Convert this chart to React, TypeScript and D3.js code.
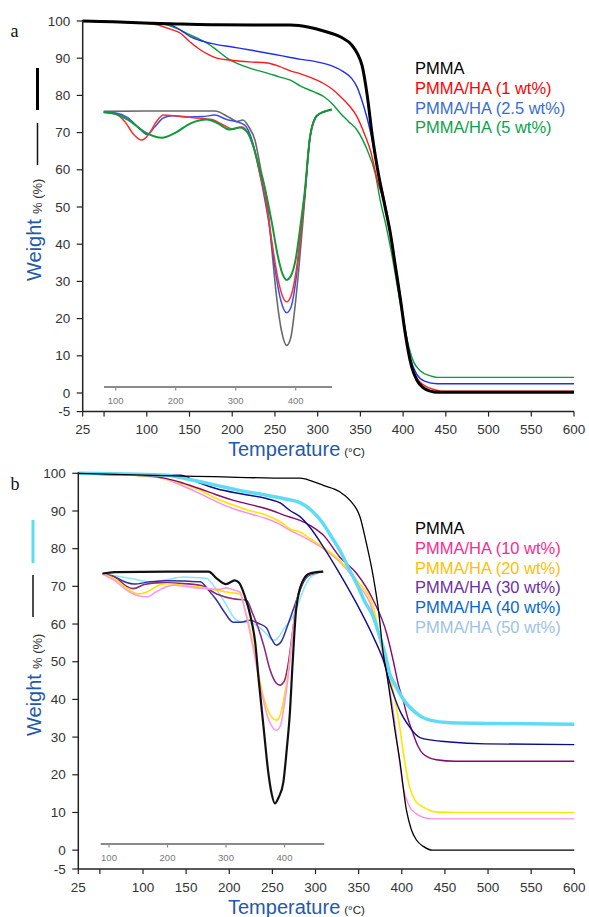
import React from 'react';
import * as d3 from 'd3';

type Pt = [number, number];

// ---------- shared ticks ----------
const yTicks = [-5, 0, 10, 20, 30, 40, 50, 60, 70, 80, 90, 100];
const xTicks = [25, 50, 100, 150, 200, 250, 300, 350, 400, 450, 500, 550, 600];
const xTickHidden = [50];
const insetTicks = [100, 200, 300, 400];

// ---------- panel a : TGA ----------
const aLegend = ['PMMA', 'PMMA/HA (1 wt%)', 'PMMA/HA (2.5 wt%)', 'PMMA/HA (5 wt%)'];
const aPMMA: Pt[] = [[25,100],[60,99.8],[89,99.5],[140,99.2],[182,99.0],[268,98.9],[290,98.3],[307,97.3],[327,95.7],[340,93.5],[347,91],[352,88],[358,80],[364,69],[371,59],[378,51],[385,43],[391,34],[397,25],[402.5,16],[410,7],[416,3.5],[423,1.5],[432,0.5],[440,0.2],[600,0.2]];
const aHA1: Pt[] = [[25,100],[60,99.8],[100,99.4],[112,99.0],[125,98],[139.5,96.7],[150,94.5],[163,92.2],[172,91],[182,90],[201,89.4],[220,89],[241,88.7],[255,87.8],[268,86.6],[280,85.8],[295,84.5],[307,83.2],[318,81.5],[326.5,79.7],[336,77.5],[346,74.3],[355,69.5],[362,65],[370,57],[378,51],[385,43],[391,34],[397,25],[402.5,16],[409,8],[416,4],[425,2],[435,1],[445,0.5],[600,0.5]];
const aHA25: Pt[] = [[25,100],[80,99.6],[110,99.3],[128,98.9],[140,97.5],[151,95.8],[162,94.8],[175,94],[200,93],[221,92.2],[250,91],[268,90.2],[280,89.7],[295,89.2],[307,88.6],[318,87.8],[330,86.4],[340,84.5],[346,82.3],[354,77],[362,70],[371,59],[378,52],[385,43.5],[391,34.5],[397,25.5],[402.5,17],[409,9],[416,5],[425,3.2],[440,2.5],[600,2.5]];
const aHA5: Pt[] = [[25,100],[80,99.6],[110,99.3],[124,98.9],[135,98],[147,96.7],[160,95.3],[171,94],[183,92],[194,90],[210,88.2],[225,87],[241,86],[255,85],[268,84.1],[280,82.5],[295,81],[307,79.7],[318,77.5],[326.5,75.2],[336,73],[346,70.7],[358,65.3],[367.4,59],[373,52],[380,45],[387,37],[393,29],[399,21],[405,14],[412,8.5],[420,6],[432,4.6],[440,4.2],[600,4.2]];

// panel a inset (DTG, drawn on main weight scale)
const aInPMMA: Pt[] = [[80,75.7],[150,75.8],[265,75.8],[290,74],[302,73],[312,73.4],[322,71.5],[332,68],[342,60],[352,52],[360,39],[368,26],[376,17],[385,12.8],[392,15],[398,22],[405,33],[415,52],[424,69],[435,74.5],[447,75.6],[460,76]];
const aInHA1: Pt[] = [[80,75.5],[100,75],[115,73],[130,69.5],[143,68],[155,69.5],[168,73],[180,74.7],[200,74.5],[230,74],[260,73.5],[280,72],[295,71],[310,71.5],[320,70],[330,66],[340,59],[350,52],[360,41],[370,31],[378,26],[385,24.5],[392,26],[400,32],[408,42],[415,53],[424,69],[435,74.5],[447,75.6],[460,76.2]];
const aInHA25: Pt[] = [[80,75.5],[100,75.3],[120,74],[140,71],[152,69.5],[165,71.5],[180,74],[195,74.5],[220,74.2],[245,74.3],[265,74.7],[285,73.5],[300,73],[315,72],[325,69],[335,63],[345,55],[355,46],[365,34],[375,25],[385,21.6],[392,23],[400,30],[408,42],[415,53],[424,69],[435,74.5],[447,75.6],[460,76.2]];
const aInHA5: Pt[] = [[80,75.5],[100,75],[120,73.5],[150,70],[177,68.6],[200,70],[225,72.5],[252,73.5],[270,72.5],[290,70.8],[307,71.4],[320,70],[330,66],[340,60],[350,54],[360,46],[370,37],[378,32],[385,30.4],[392,31.5],[400,36],[408,45],[415,54],[424,69],[435,74.5],[447,75.6],[460,76.2]];

// ---------- panel b : TGA ----------
const bLegend = ['PMMA', 'PMMA/HA (10 wt%)', 'PMMA/HA (20 wt%)', 'PMMA/HA (30 wt%)', 'PMMA/HA (40 wt%)', 'PMMA/HA (50 wt%)'];
const bPMMA: Pt[] = [[25,100],[100,99.5],[181.5,99.1],[270,98.7],[282,98.7],[295,98],[309,96.8],[328,95.1],[340,92.8],[351.6,88.4],[359,81.4],[367,72.5],[373,63.7],[378.6,52],[382.5,47],[386,41.6],[392,32],[397.6,23.9],[405.4,10.6],[411,5.5],[417,2.7],[425,1],[436,0],[600,0]];
const bHA10: Pt[] = [[25,100],[80,99.6],[120,98.8],[135,97.7],[150,96.3],[166,94.6],[185,92.5],[205,90.6],[225,89.2],[243,88],[260,86.3],[270,84.9],[282,83.6],[295,82],[309,80],[328,76.5],[347.7,71],[367,63],[378,52],[384,45],[390,37.1],[395,28],[401.5,16.8],[408,12],[416.6,9.7],[425,8.7],[436,8.3],[600,8.3]];
const bHA20: Pt[] = [[25,100],[80,99.6],[120,98.8],[145,97.3],[166,95.5],[185,93.3],[205,91.5],[225,90],[243,88.9],[260,87],[270,85.3],[282,84.4],[295,82.5],[309,80.4],[328,76.9],[347.7,71.6],[367,64.5],[376.7,53.9],[386,46.8],[392,40],[397.6,32.7],[403,24],[409,16.8],[416,13],[424.5,11.5],[441.6,10.1],[465,10],[600,10]];
const bHA30: Pt[] = [[25,100],[60,99.6],[100,99.4],[127.5,98.6],[145,97.5],[166,95.9],[185,94.3],[205,92.8],[243,90.6],[270,88.4],[282,87.5],[295,86],[309,83.6],[328,77.8],[347.7,73.4],[367,66.3],[382.5,57.5],[390,50.4],[396,44],[401.5,39.8],[407,35],[413,31],[419,27.5],[424.5,25.6],[440,24],[462,23.6],[600,23.6]];
const bHA40: Pt[] = [[25,100],[100,99.7],[143,99.5],[165,97.5],[185.5,95.9],[215,94.5],[243,93.3],[260,92],[270,90.2],[282,88.5],[293,85.8],[309,80.5],[328,73.4],[347.7,65.4],[367,56.6],[378.6,50.4],[388,43],[397.6,37.1],[409,32.7],[417,30.5],[424.5,29.6],[456,28.7],[497,28.2],[600,28]];
const bHA50: Pt[] = [[25,100],[80,99.8],[127.5,99.5],[155,98.3],[185.5,96.8],[215,95.3],[243,94.2],[265,93.2],[282,92.2],[295,90.2],[309,86.6],[318,83.3],[328,79.6],[338,75],[347.7,70.7],[357,66],[367,61.9],[374,57],[380.5,52.2],[386,46.8],[392,44],[397.6,41.6],[405,39],[413,37.1],[422,35.5],[432.5,34.5],[456,33.8],[515,33.6],[600,33.4]];

// panel b inset
const bInPMMA: Pt[] = [[89,73.4],[110,73.8],[200,73.9],[270,73.9],[285,72],[300,70.6],[315,71.6],[322,71],[332,67.5],[342,62],[350,55],[356,45],[364,33],[372,21],[378,15],[383.5,12.4],[390,14],[398,18],[404,27],[409,36],[414,50],[420,64],[430,71],[443,73.4],[466,73.9]];
const bInHA10: Pt[] = [[89,73.3],[110,71.5],[130,69],[150,67.5],[165,67.2],[180,68.5],[200,70],[210,70.3],[256,69.5],[290,69.2],[300,69.6],[310,69.2],[324,68.5],[332,64],[342,57],[352,49],[362,41],[372,35],[380,32.5],[386,31.8],[393,33],[400,39],[407,47],[413,56],[420,65],[430,71],[443,73.3],[466,73.9]];
const bInHA20: Pt[] = [[89,73.3],[110,72],[130,69.5],[150,68],[165,68.5],[185,70.3],[199,70.7],[230,70.2],[256,69.8],[285,69],[301,68.5],[315,68.2],[324,68],[332,64],[342,58],[352,50],[362,42],[372,37],[380,35],[386,34.5],[393,36],[400,41],[407,48],[413,56],[420,65],[430,71],[443,73.3],[466,73.9]];
const bInHA30: Pt[] = [[89,73.3],[110,72.5],[130,70],[142,69.4],[160,70.5],[188,71],[220,70.8],[256,70.3],[284,68],[312,66.7],[335,66.3],[345,63],[355,59],[365,54],[375,48],[385,44.5],[392,43.8],[400,45],[407,50],[413,57],[420,65],[430,71],[443,73.3],[466,73.9]];
const bInHA40: Pt[] = [[89,73.3],[110,72.5],[130,71],[142.5,70.6],[170,71.2],[199,71.5],[230,71.4],[256,71.2],[270,69],[284,66.3],[298,63],[312,60.5],[325,60.5],[341,61],[355,60.2],[369,59],[378,56],[386,54.4],[395,55.5],[404,59],[413,63],[422,67],[432,71],[443,73],[466,73.9]];
const bInHA50: Pt[] = [[89,73.3],[110,72.8],[140,72],[171,71.2],[200,71.8],[227,72.5],[250,72.3],[267,72.1],[282,69.5],[296,66.3],[308,63],[318,61],[332,60.5],[346.6,60.1],[358,59],[369,57.4],[376,56.2],[383.5,55.7],[392,57],[400,59],[414.6,62],[425,66],[435,70],[445,72.5],[466,73.9]];

const SANS = '"Liberation Sans", Arial, sans-serif';
const SERIF = '"Liberation Serif", "Times New Roman", serif';
const LABEL_BLUE = '#1f5aa8';

interface Series { data: Pt[]; color: string; width: number; }
interface PanelProps {
  letter: string; letterY: number;
  x0: number; x1: number; yTop: number; yBottom: number;
  main: Series[]; inset: Series[];
  insetScale: [number, number]; insetAxisY: number; insetAxisRange: [number, number];
  legend: string[]; legendColors: string[]; legendY: number;
  lineTopColor: string; lineTopY: [number, number]; lineThinY: [number, number]; lineX: number;
  weightY: number; tempY: number; tickDy: number;
}

function Panel(p: PanelProps) {
  const x = d3.scaleLinear().domain([25, 600]).range([p.x0, p.x1]);
  const y = d3.scaleLinear().domain([-5, 100]).range([p.yBottom, p.yTop]);
  const xi = d3.scaleLinear().domain([100, 400]).range(p.insetScale);
  const lineMain = d3.line<Pt>().x(d => x(d[0])).y(d => y(d[1])).curve(d3.curveMonotoneX);
  const lineInset = d3.line<Pt>().x(d => xi(d[0])).y(d => y(d[1])).curve(d3.curveMonotoneX);
  const axisY = y(-5);
  return (
    <g>
      <text x={10.5} y={p.letterY} fontFamily={SERIF} fontSize={18} fill="#111">{p.letter}</text>
      {/* inset axis */}
      <line x1={p.insetAxisRange[0]} x2={p.insetAxisRange[1]} y1={p.insetAxisY} y2={p.insetAxisY} stroke="#8a8a8a" strokeWidth={2.2} />
      {insetTicks.map(t => (
        <g key={'it' + t}>
          <line x1={xi(t)} x2={xi(t)} y1={p.insetAxisY} y2={p.insetAxisY + 3.5} stroke="#8a8a8a" strokeWidth={1.2} />
          <text x={xi(t)} y={p.insetAxisY + 17} textAnchor="middle" fontFamily={SANS} fontSize={9.5} fill="#777">{t}</text>
        </g>
      ))}
      {p.inset.map((s, i) => (
        <path key={'in' + i} d={lineInset(s.data) || ''} fill="none" stroke={s.color} strokeWidth={s.width} strokeLinejoin="round" />
      ))}
      {p.main.map((s, i) => (
        <path key={'m' + i} d={lineMain(s.data) || ''} fill="none" stroke={s.color} strokeWidth={s.width} strokeLinejoin="round" />
      ))}
      {/* axes */}
      <line x1={p.x0} x2={p.x0} y1={p.yTop - 1} y2={axisY} stroke="#222" strokeWidth={1.5} />
      <line x1={p.x0} x2={p.x1} y1={axisY} y2={axisY} stroke="#222" strokeWidth={1.5} />
      {yTicks.map(t => (
        <g key={'y' + t}>
          <line x1={p.x0 - 6} x2={p.x0} y1={y(t)} y2={y(t)} stroke="#222" strokeWidth={1.2} />
          <text x={p.x0 - 12.5} y={y(t) + 4.6} textAnchor="end" fontFamily={SANS} fontSize={13.5} fill="#333">{t}</text>
        </g>
      ))}
      {xTicks.map(t => (
        <g key={'x' + t}>
          <line x1={x(t)} x2={x(t)} y1={axisY} y2={axisY + 5} stroke="#222" strokeWidth={1.2} />
          {xTickHidden.indexOf(t) < 0 && (
            <text x={x(t)} y={axisY + p.tickDy} textAnchor="middle" fontFamily={SANS} fontSize={13.5} fill="#333">{t}</text>
          )}
        </g>
      ))}
      {/* axis titles */}
      <text x={228} y={p.tempY} fontFamily={SANS} fontSize={20} fill={LABEL_BLUE}>
        Temperature<tspan fontSize={11.5} fill="#222" dx={4}>(°C)</tspan>
      </text>
      <g transform={`translate(40.5, ${p.weightY}) rotate(-90)`}>
        <text x={0} y={0} fontFamily={SANS} fontSize={20} fill={LABEL_BLUE}>Weight</text>
        <text x={67} y={1.5} fontFamily={SANS} fontSize={13} fill="#333">% (%)</text>
      </g>
      <line x1={p.lineX} x2={p.lineX} y1={p.lineThinY[0]} y2={p.lineThinY[1]} stroke="#111" strokeWidth={1.5} />
      <line x1={p.lineX} x2={p.lineX} y1={p.lineTopY[0]} y2={p.lineTopY[1]} stroke={p.lineTopColor} strokeWidth={3} />
      {/* legend */}
      {p.legend.map((l, i) => (
        <text key={'l' + i} x={415} y={p.legendY + i * 19.8} fontFamily={SANS} fontSize={16.5} fill={p.legendColors[i]}>{l}</text>
      ))}
    </g>
  );
}

export default function App() {
  const aMain: Series[] = [
    { data: aHA5, color: '#0a9a3c', width: 1.4 },
    { data: aHA25, color: '#1f2ff0', width: 1.4 },
    { data: aHA1, color: '#ff1a1a', width: 1.4 },
    { data: aPMMA, color: '#000', width: 3 },
  ];
  const aInset: Series[] = [
    { data: aInPMMA, color: '#6a6a6a', width: 1.6 },
    { data: aInHA25, color: '#3a4cf5', width: 1.5 },
    { data: aInHA1, color: '#ff3030', width: 1.5 },
    { data: aInHA5, color: '#0f9a3a', width: 2 },
  ];
  const bMain: Series[] = [
    { data: bHA10, color: '#ff8ce6', width: 1.4 },
    { data: bHA20, color: '#ffe600', width: 1.6 },
    { data: bHA30, color: '#850a70', width: 1.4 },
    { data: bHA40, color: '#0c0c8a', width: 1.4 },
    { data: bHA50, color: '#5fdcf5', width: 3.5 },
    { data: bPMMA, color: '#000', width: 1.3 },
  ];
  const bInset: Series[] = [
    { data: bInHA50, color: '#8ae6fa', width: 1.5 },
    { data: bInHA40, color: '#3030a0', width: 1.5 },
    { data: bInHA30, color: '#8a2a80', width: 1.6 },
    { data: bInHA20, color: '#ffe000', width: 1.6 },
    { data: bInHA10, color: '#ff9aea', width: 1.6 },
    { data: bInPMMA, color: '#111', width: 2.2 },
  ];
  return (
    <svg width={589} height={917} style={{ position: 'absolute', left: 0, top: 0, background: '#fff' }}>
      <rect x={0} y={0} width={589} height={917} fill="#fff" />
      <Panel
        letter="a" letterY={37}
        x0={82.7} x1={574} yTop={21} yBottom={411.6}
        main={aMain} inset={aInset}
        insetScale={[115.7, 295.7]} insetAxisY={387} insetAxisRange={[104, 332]}
        legend={aLegend} legendColors={['#000', '#ff0000', '#3a6cd0', '#0ea04a']} legendY={74}
        lineTopColor="#000" lineTopY={[68, 110]} lineThinY={[123, 165]} lineX={37.5}
        weightY={281} tempY={455.5} tickDy={22}
      />
      <Panel
        letter="b" letterY={490}
        x0={78.3} x1={574.3} yTop={473.3} yBottom={869}
        main={bMain} inset={bInset}
        insetScale={[109, 284.5]} insetAxisY={844} insetAxisRange={[100.7, 324.3]}
        legend={bLegend} legendColors={['#000', '#ff2a8c', '#ffc000', '#7030a0', '#0a66c8', '#9cc2e6']} legendY={534}
        lineTopColor="#5fdcf5" lineTopY={[520, 563]} lineThinY={[575, 617]} lineX={33}
        weightY={736} tempY={914} tickDy={22.5}
      />
    </svg>
  );
}
